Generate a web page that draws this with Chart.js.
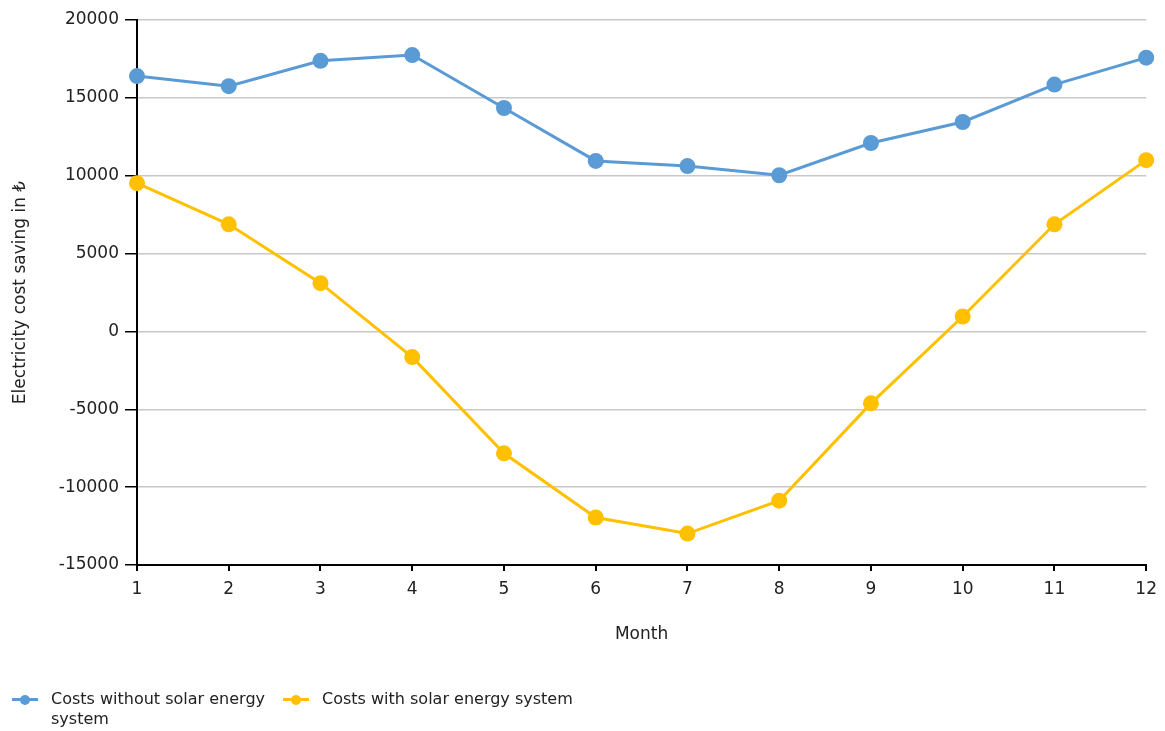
<!DOCTYPE html>
<html lang="en">
<head>
  <meta charset="UTF-8" />
  <title>Electricity cost saving by month</title>
  <script src="https://cdn.jsdelivr.net/npm/chart.js"></script>
  <style>
    body { margin: 0; background: #fff; font-family: "DejaVu Sans", sans-serif; }
    #wrap { position: relative; width: 1165px; height: 731px; }
    #legend { position: absolute; left: 12px; top: 689px; display: flex; align-items: flex-start; font-size: 16px; color: #222; }
    .item { display: flex; align-items: flex-start; margin-right: 8px; }
    .item .txt { line-height: 20px; }
    .mark { position: relative; width: 26px; height: 20px; margin: 0 13px 0 0; flex: none; }
    .mark i { position: absolute; left: 0; right: 0; top: 9px; height: 3px; }
    .mark b { position: absolute; left: 8px; top: 6px; width: 10px; height: 10px; border-radius: 50%; }
  </style>
</head>
<body>
<div id="wrap">
  <canvas id="costChart" width="1165" height="731"></canvas>
  <div id="legend"></div>
</div>

<script>
const months = ["1", "2", "3", "4", "5", "6", "7", "8", "9", "10", "11", "12"];
const withoutSolar = [16400, 15750, 17380, 17750, 14350, 10950, 10620, 10030, 12100, 13450, 15850, 17580];
const withSolar = [9520, 6880, 3100, -1650, -7830, -11950, -12980, -10870, -4620, 960, 6880, 11000];
const seriesNames = ["Costs without solar energy system", "Costs with solar energy system"];
const seriesColors = ["#5b9bd5", "#ffc000"];

const font = { family: "DejaVu Sans", size: 17 };
const textColor = "#222";

function makeSet(i, data) {
  return {
    label: seriesNames[i],
    data: data,
    borderColor: seriesColors[i],
    backgroundColor: seriesColors[i],
    borderWidth: 3,
    pointRadius: 8,
    pointHoverRadius: 8,
    pointBorderWidth: 0,
    tension: 0
  };
}

const chart = new Chart(document.getElementById("costChart").getContext("2d"), {
  type: "line",
  data: { labels: months, datasets: [makeSet(0, withoutSolar), makeSet(1, withSolar)] },
  options: {
    responsive: false,
    animation: false,
    layout: { padding: { top: 20, right: 15, left: 10, bottom: 86 } },
    plugins: { legend: { display: false }, tooltip: { enabled: false } },
    scales: {
      x: {
        offset: false,
        grid: { drawOnChartArea: false, tickColor: "#000", tickLength: 6, lineWidth: 2 },
        border: { color: "#000", width: 2 },
        ticks: { font: font, color: textColor, padding: 8, maxRotation: 0 },
        title: { display: true, text: "Month", font: font, color: textColor, padding: { top: 22, bottom: 0 } },
        afterFit: s => { s.height = 80; }
      },
      y: {
        min: -15000,
        max: 20000,
        grid: { color: "#c8c8c8", lineWidth: 1.5, tickColor: "#000", tickLength: 12 },
        border: { color: "#000", width: 2 },
        ticks: { stepSize: 5000, font: font, color: textColor, padding: 6, callback: v => String(v) },
        title: { display: true, text: "Electricity cost saving in \u20BA", font: font, color: textColor, padding: { top: 0, bottom: 0 } },
        afterFit: s => { s.width = 127; }
      }
    }
  }
});

// html legend, wraps the long first label like the original
const legend = document.getElementById("legend");
const widths = [224, 290];
chart.data.datasets.forEach((ds, i) => {
  const it = document.createElement("div");
  it.className = "item";
  it.innerHTML = `<span class="mark"><i style="background:${ds.borderColor}"></i><b style="background:${ds.borderColor}"></b></span>` +
    `<span class="txt" style="width:${widths[i]}px">${ds.label}</span>`;
  legend.appendChild(it);
});
</script>
</body>
</html>
